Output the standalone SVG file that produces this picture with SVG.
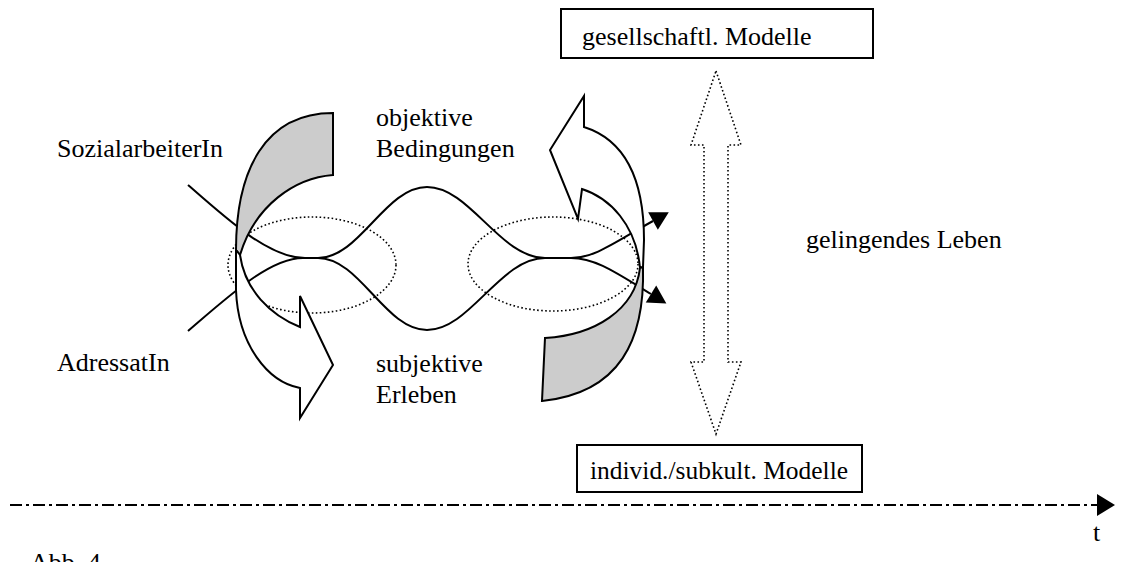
<svg xmlns="http://www.w3.org/2000/svg" width="1125" height="562" viewBox="0 0 1125 562">
<defs>
<style>
text{font-family:"Liberation Serif","Times New Roman",serif;font-size:26px;fill:#000}
.ln{fill:none;stroke:#000;stroke-width:2}
.wh{fill:#fff;stroke:#000;stroke-width:2;stroke-linejoin:miter}
.gr{fill:#cccccc;stroke:#000;stroke-width:2}
.dot{fill:none;stroke:#000;stroke-width:1.6;stroke-dasharray:1.6 2.4}
.box{fill:#fff;stroke:#000;stroke-width:2}
</style>
<marker id="tri" markerUnits="userSpaceOnUse" markerWidth="20" markerHeight="22" refX="0" refY="10" orient="auto" overflow="visible">
<path d="M0,0 L18,10 L0,20 Z" fill="#000"/>
</marker>
<marker id="tl" markerUnits="userSpaceOnUse" markerWidth="20" markerHeight="24" refX="0" refY="11" orient="auto" overflow="visible">
<path d="M0,0 L18,11 L0,22 Z" fill="#000"/>
</marker>
</defs>
<rect width="1125" height="562" fill="#fff"/>

<g id="connectors">
<path id="wave-upper" class="ln" d="M188,185 C230,222 270,258 305,258 L318,258 C360,258 385,187 427,187 C470,187 500,258 545,258 L571,258 C595,258 615,242 653,221" marker-end="url(#tri)"/>
<path id="wave-lower" class="ln" d="M188,331 C230,295 270,258 303,258 L318,258 C360,258 385,330 427,330 C470,330 500,258 545,258 L571,258 C595,258 615,272 651,294" marker-end="url(#tri)"/>
<path id="timeline" class="ln" d="M10,505 L1097,505" stroke-dasharray="12 4 3 4" marker-end="url(#tl)"/>
</g>

<g id="ellipse-left"><ellipse class="dot" cx="312" cy="265" rx="84" ry="48"/></g>
<g id="ellipse-right"><ellipse class="dot" cx="553" cy="264" rx="85" ry="47"/></g>

<g id="arrow-left">
<path class="gr" d="M333,113 L333,175 C295,178 255,205 240,255 L236,250 C236,170 265,113 333,113 Z"/>
<path class="wh" d="M236,250 L236,290 C238,345 268,382 300,388 L300,418 L333,365 L300,296 L300,327 C270,315 245,290 240,255 Z"/>
</g>

<g id="arrow-right">
<path class="wh" d="M584,127 L584,96 L550,150 L578,219 L582,189 C610,198 636,225 640,268 L643,267 L644,240 C644,180 625,140 584,127 Z"/>
<path class="gr" d="M643,267 C645,340 620,393 542,401 L545,338 C595,335 635,310 640,268 Z"/>
</g>

<g id="double-arrow">
<path class="dot" d="M716,71 L741,145 L728,145 L728,362 L741,362 L716,434 L691,362 L704,362 L704,145 L691,145 Z"/>
</g>

<g id="box-top">
<rect class="box" x="561" y="9" width="312" height="49"/>
<text x="582" y="45">gesellschaftl. Modelle</text>
</g>
<g id="box-bottom">
<rect class="box" x="577" y="445" width="285" height="47"/>
<text x="590" y="479" textLength="258" lengthAdjust="spacingAndGlyphs">individ./subkult. Modelle</text>
</g>

<g id="labels">
<text x="57" y="157">SozialarbeiterIn</text>
<text x="57" y="371">AdressatIn</text>
<text x="376" y="126">objektive</text>
<text x="376" y="157">Bedingungen</text>
<text x="376" y="372">subjektive</text>
<text x="376" y="403">Erleben</text>
<text x="806" y="248">gelingendes Leben</text>
<text x="1093" y="541">t</text>
<text x="30" y="571">Abb. 4</text>
</g>
</svg>
